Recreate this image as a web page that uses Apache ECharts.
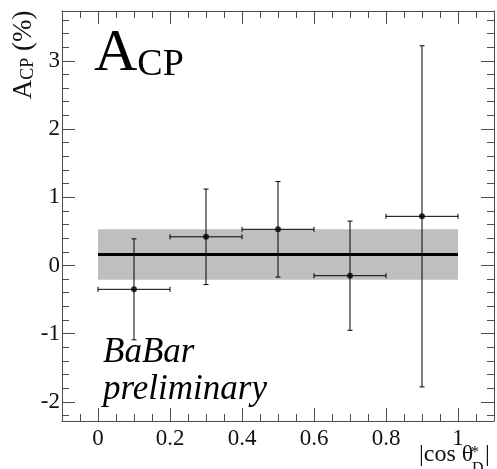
<!DOCTYPE html>
<html><head><meta charset="utf-8">
<script src="https://cdn.jsdelivr.net/npm/echarts@6/dist/echarts.min.js"></script>
<style>html,body{margin:0;padding:0;background:#fff}#c{width:497px;height:469px}</style>
</head><body><div id="c"></div>
<script>
// ---- data ----
const binCenters = [0.1, 0.3, 0.5, 0.7, 0.9];
const binHalfWidths = [0.1, 0.1, 0.1, 0.1, 0.1];
const acpValues = [-0.35, 0.42, 0.53, -0.15, 0.72];
const acpErrors = [0.74, 0.70, 0.70, 0.80, 2.50];
const fitRange = [0, 1];
const fitValue = 0.16;
const fitError = 0.37;
const xRange = [-0.1, 1.1];
const yRange = [-2.28, 3.73];
const xMajorTicks = [0, 0.2, 0.4, 0.6, 0.8, 1];
const xMinorTicks = [-0.05, 0.05, 0.1, 0.15, 0.25, 0.3, 0.35, 0.45, 0.5, 0.55, 0.65, 0.7, 0.75, 0.85, 0.9, 0.95, 1.05];
const yMajorTicks = [-2, -1, 0, 1, 2, 3];
const yMinorTicks = [-2.2, -1.8, -1.6, -1.4, -1.2, -0.8, -0.6, -0.4, -0.2, 0.2, 0.4, 0.6, 0.8, 1.2, 1.4, 1.6, 1.8, 2.2, 2.4, 2.6, 2.8, 3.2, 3.4, 3.6];

const SERIF = 'Liberation Serif';
const FRAME = '#4d4d4d';
const gridBox = { left: 62, right: 3, top: 11, bottom: 48 };

function xAx(grid, pos, ticks, len, labels, line) {
  return {
    type: 'value', gridIndex: grid, position: pos, min: xRange[0], max: xRange[1],
    axisLine: { show: line, onZero: false, lineStyle: { color: FRAME, width: 1 } },
    axisTick: { show: true, inside: true, length: len, customValues: ticks, lineStyle: { color: FRAME, width: 1 } },
    axisLabel: labels ? { show: true, customValues: ticks, margin: 6, color: '#111', fontFamily: SERIF, fontSize: 23 } : { show: false },
    splitLine: { show: false }
  };
}
function yAx(grid, pos, ticks, len, labels, line) {
  return {
    type: 'value', gridIndex: grid, position: pos, min: yRange[0], max: yRange[1],
    axisLine: { show: line, onZero: false, lineStyle: { color: FRAME, width: 1 } },
    axisTick: { show: true, inside: true, length: len, customValues: ticks, lineStyle: { color: FRAME, width: 1 } },
    axisLabel: labels ? { show: true, customValues: ticks, margin: 2, color: '#111', fontFamily: SERIF, fontSize: 23 } : { show: false },
    splitLine: { show: false }
  };
}

const pointData = binCenters.map((x, i) => [x, acpValues[i], binHalfWidths[i], acpErrors[i]]);
const bandData = [[fitRange[0], fitRange[1], fitValue - fitError, fitValue + fitError]];
const fitLineData = [[fitRange[0], fitValue], [fitRange[1], fitValue]];

const chart = echarts.init(document.getElementById('c'), null, { renderer: 'canvas' });
chart.setOption({
  animation: false,
  backgroundColor: '#fff',
  grid: [Object.assign({}, gridBox), Object.assign({}, gridBox)],
  xAxis: [
    xAx(0, 'bottom', xMajorTicks, 13, true, true),
    xAx(0, 'top', xMajorTicks, 13, false, true),
    xAx(1, 'bottom', xMinorTicks, 7, false, false),
    xAx(1, 'top', xMinorTicks, 7, false, false)
  ],
  yAxis: [
    yAx(0, 'left', yMajorTicks, 13, true, true),
    yAx(0, 'right', yMajorTicks, 13, false, true),
    yAx(1, 'left', yMinorTicks, 7, false, false),
    yAx(1, 'right', yMinorTicks, 7, false, false)
  ],
  series: [
    {
      type: 'custom', xAxisIndex: 0, yAxisIndex: 0, data: bandData,
      encode: { x: [0, 1], y: [2, 3] }, z: 1,
      renderItem: function (params, api) {
        const p0 = api.coord([api.value(0), api.value(3)]);
        const p1 = api.coord([api.value(1), api.value(2)]);
        return { type: 'rect', shape: { x: p0[0], y: p0[1], width: p1[0] - p0[0], height: p1[1] - p0[1] }, style: { fill: '#bfbfbf' } };
      }
    },
    {
      type: 'line', xAxisIndex: 0, yAxisIndex: 0, data: fitLineData, symbol: 'none', z: 2,
      lineStyle: { color: '#000', width: 3 }
    },
    {
      type: 'custom', xAxisIndex: 0, yAxisIndex: 0, data: pointData,
      encode: { x: 0, y: 1 }, z: 3,
      renderItem: function (params, api) {
        const x = api.value(0), y = api.value(1), ex = api.value(2), ey = api.value(3);
        const l = api.coord([x - ex, y]), r = api.coord([x + ex, y]);
        const t = api.coord([x, y + ey]), b = api.coord([x, y - ey]);
        const cap = 2.5;
        const st = { stroke: '#000', lineWidth: 1 };
        const ln = (x1, y1, x2, y2) => ({ type: 'line', shape: { x1, y1, x2, y2 }, style: st });
        return {
          type: 'group', children: [
            ln(l[0], l[1], r[0], r[1]),
            ln(l[0], l[1] - cap, l[0], l[1] + cap),
            ln(r[0], r[1] - cap, r[0], r[1] + cap),
            ln(t[0], t[1], b[0], b[1]),
            ln(t[0] - cap, t[1], t[0] + cap, t[1]),
            ln(b[0] - cap, b[1], b[0] + cap, b[1])
          ]
        };
      }
    },
    {
      type: 'scatter', xAxisIndex: 0, yAxisIndex: 0, z: 4,
      data: binCenters.map((x, i) => [x, acpValues[i]]),
      symbol: 'circle', symbolSize: 6, itemStyle: { color: '#000' }
    }
  ],
  graphic: [
    {
      type: 'text', x: 94, y: 24, z: 10,
      style: {
        text: '{a|A}{b|CP}', align: 'left', verticalAlign: 'top',
        rich: {
          a: { fontFamily: SERIF, fontSize: 60, lineHeight: 60, verticalAlign: 'bottom', fill: '#000' },
          b: { fontFamily: SERIF, fontSize: 38, lineHeight: 40, verticalAlign: 'bottom', fill: '#000' }
        }
      }
    },
    {
      type: 'text', x: 23, y: 55, rotation: Math.PI / 2, z: 10,
      style: {
        text: '{a|A}{b|CP}{a| (%)}', align: 'center', verticalAlign: 'middle',
        rich: {
          a: { fontFamily: SERIF, fontSize: 27, lineHeight: 29, verticalAlign: 'bottom', fill: '#111' },
          b: { fontFamily: SERIF, fontSize: 18, lineHeight: 18, verticalAlign: 'bottom', fill: '#111' }
        }
      }
    },
    {
      type: 'text', x: 103, y: 352.5, z: 10,
      style: { text: 'BaBar', font: 'italic 35px "Liberation Serif"', fill: '#000', align: 'left', verticalAlign: 'middle' }
    },
    {
      type: 'text', x: 103, y: 389.5, z: 10,
      style: { text: 'preliminary', font: 'italic 35px "Liberation Serif"', fill: '#000', align: 'left', verticalAlign: 'middle' }
    },
    {
      type: 'text', x: 419, y: 455, z: 10,
      style: { text: '|cos θ', font: '24px "Liberation Serif"', fill: '#111', align: 'left', verticalAlign: 'middle' }
    },
    {
      type: 'text', x: 471, y: 453, z: 10,
      style: { text: '*', font: '16px "Liberation Serif"', fill: '#111', align: 'left', verticalAlign: 'middle' }
    },
    {
      type: 'text', x: 472, y: 469, z: 10,
      style: { text: 'D', font: '16px "Liberation Serif"', fill: '#111', align: 'left', verticalAlign: 'middle' }
    },
    {
      type: 'text', x: 485, y: 455, z: 10,
      style: { text: '|', font: '24px "Liberation Serif"', fill: '#111', align: 'left', verticalAlign: 'middle' }
    }
  ]
});
</script>
</body></html>
